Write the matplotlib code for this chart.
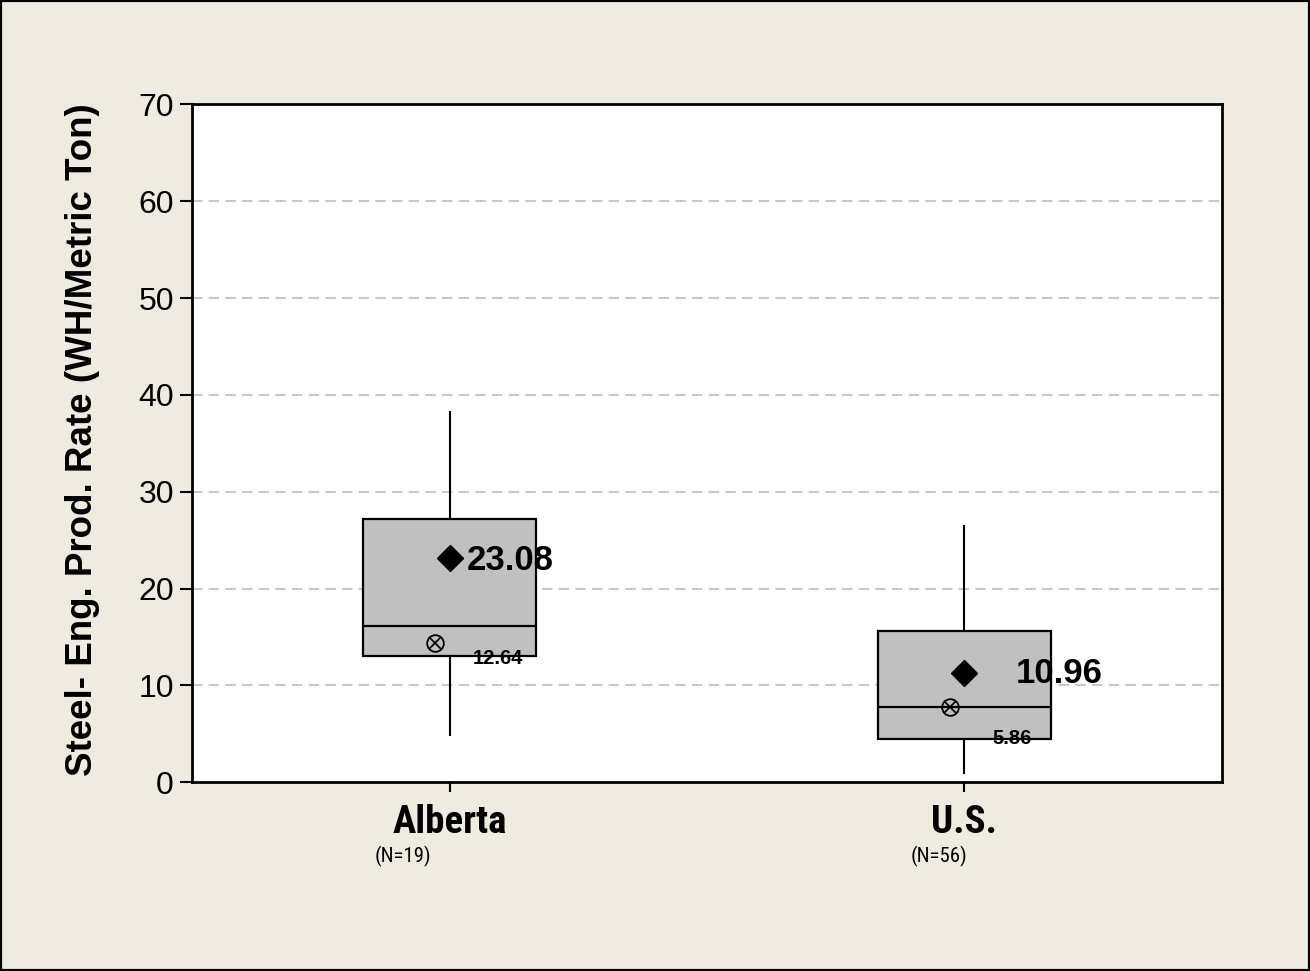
import matplotlib
matplotlib.use('Agg')
import matplotlib.pyplot as plt
from matplotlib import font_manager
from matplotlib.patches import Rectangle

# box plot stats
groups = ['Alberta', 'U.S.']
counts = ['(N=19)', '(N=56)']
q1 = [13.07, 4.44]
med = [16.14, 7.81]
q3 = [27.18, 15.65]
whislo = [4.88, 0.93]
whishi = [38.2, 26.46]
mean_pos = [23.15, 11.3]          # diamond
mean_lbl = ['23.08', '10.96']
circ_pos = [14.35, 7.74]          # circled x
circ_lbl = ['12.64', '5.86']

# look for a narrow font for the group names, else shrink the normal one
narrow = None
for f in font_manager.fontManager.ttflist:
    n = f.name.lower()
    if 'narrow' in n or 'condensed' in n:
        narrow = f.name
        if 'liberation' in n:
            break
if narrow:
    grp_font, grp_size, n_font, n_size = narrow, 28, narrow, 15
else:
    grp_font, grp_size, n_font, n_size = 'Liberation Sans', 21, 'Liberation Sans', 12

bg = '#EFEBE0'
fig = plt.figure(figsize=(13.1, 9.71), dpi=100, facecolor=bg)
ax = fig.add_axes([0.1466, 0.1943, 0.9328 - 0.1466, 0.8926 - 0.1943])
ax.set_facecolor('white')

pos = [1, 2]
stats = []
for i in range(len(groups)):
    stats.append({'q1': q1[i], 'med': med[i], 'q3': q3[i],
                  'whislo': whislo[i], 'whishi': whishi[i], 'fliers': []})

ax.bxp(stats, positions=pos, widths=0.337, patch_artist=True, showcaps=False,
       showfliers=False,
       boxprops=dict(facecolor='#C0C0C0', edgecolor='black', linewidth=1.6),
       medianprops=dict(color='black', linewidth=1.6),
       whiskerprops=dict(color='black', linewidth=1.5), zorder=3)

# mean diamonds and circled-x markers
ax.plot(pos, mean_pos, 'D', color='black', markersize=13, zorder=5, linestyle='none')
cx = [p - 0.028 for p in pos]
ax.plot(cx, circ_pos, 'o', mfc='none', mec='black', mew=1.3, markersize=12, zorder=5,
        linestyle='none')
ax.plot(cx, circ_pos, 'x', color='black', mew=1.3, markersize=8, zorder=5,
        linestyle='none')

# value labels
mean_dx = [0.033, 0.099]
mean_dy = [0.1, 0.3]
circ_dx = [0.046, 0.054]
circ_dy = [-1.4, -3.0]
for i in range(len(groups)):
    ax.text(pos[i] + mean_dx[i], mean_pos[i] + mean_dy[i], mean_lbl[i],
            fontsize=25, fontweight='bold', family='Liberation Sans',
            ha='left', va='center_baseline', zorder=6)
    ax.text(pos[i] + circ_dx[i], circ_pos[i] + circ_dy[i], circ_lbl[i],
            fontsize=14.5, fontweight='bold', family='Liberation Sans',
            ha='left', va='center_baseline', zorder=6)

ax.set_xlim(0.5, 2.5)
ax.set_ylim(0, 70)
ax.set_yticks(range(0, 80, 10))
ax.set_xticks(pos)
ax.set_xticklabels(groups, fontsize=grp_size, fontweight='bold',
                   family=[grp_font, 'DejaVu Sans'])
for lab in ax.get_yticklabels():
    lab.set_fontsize(23)
    lab.set_family('Liberation Sans')

for yv in range(10, 70, 10):
    ax.axhline(yv, color='#C8C8C8', linewidth=1.5, linestyle=(0, (5, 3)), zorder=1)

ax.tick_params(axis='y', direction='out', length=9, width=1.5, pad=4)
ax.tick_params(axis='x', direction='out', length=7.5, width=1.5, pad=8)
for s in ax.spines.values():
    s.set_linewidth(2)
    s.set_color('black')

ax.set_ylabel('Steel- Eng. Prod. Rate (WH/Metric Ton)', fontsize=26.5,
              fontweight='bold', family='Liberation Sans')
ax.yaxis.set_label_coords(-0.0893, 0.506)

# sample sizes under the group names
n_dx = [-0.091, -0.049]
for i in range(len(groups)):
    ax.text(pos[i] + n_dx[i], -7.7, counts[i], fontsize=n_size,
            family=[n_font, 'DejaVu Sans'], ha='center', va='center')

fig.patches.append(Rectangle((0, 0), 1, 1, transform=fig.transFigure, fill=False,
                             edgecolor='black', linewidth=3))

fig.savefig('out.png', dpi=100, facecolor=bg)
